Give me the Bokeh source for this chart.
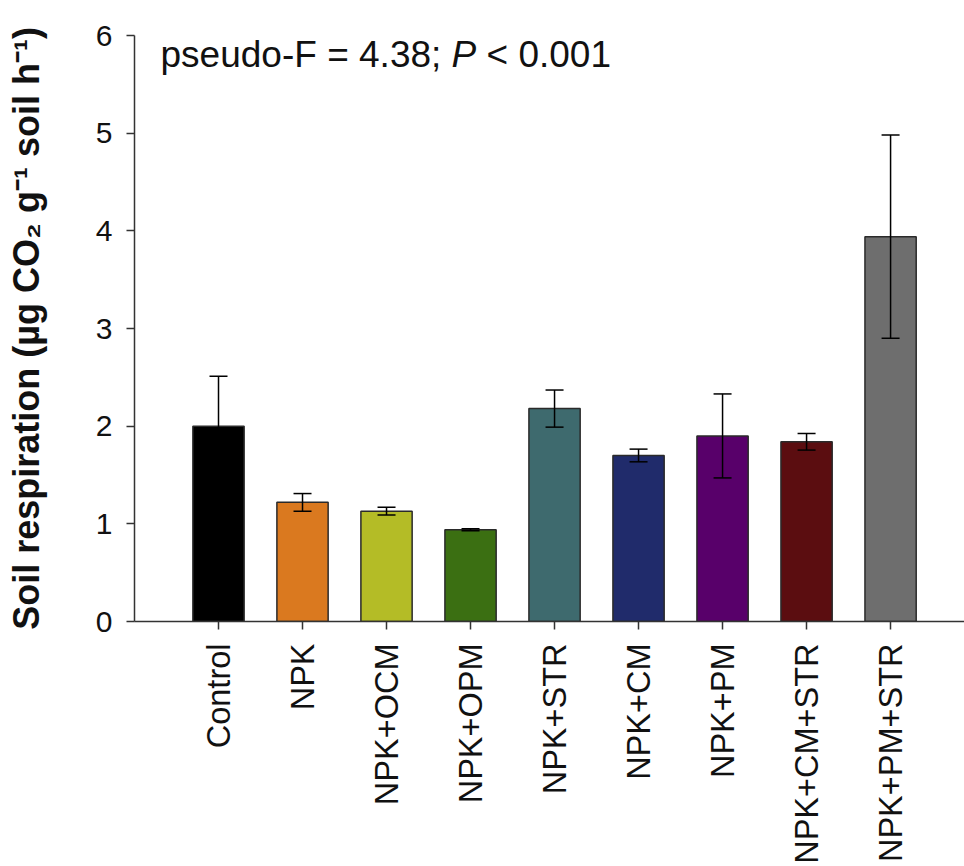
import math
from bokeh.plotting import figure
from bokeh.models import ColumnDataSource, Whisker, TeeHead, FixedTicker, Label, Range1d
from bokeh.embed import file_html
from bokeh.resources import INLINE

categories = ["Control", "NPK", "NPK+OCM", "NPK+OPM", "NPK+STR",
              "NPK+CM", "NPK+PM", "NPK+CM+STR", "NPK+PM+STR"]
means = [2.00, 1.22, 1.13, 0.94, 2.18, 1.70, 1.90, 1.84, 3.94]
errors = [0.51, 0.09, 0.04, 0.01, 0.19, 0.065, 0.43, 0.085, 1.04]
colors = ["#000000", "#DA791F", "#B4BC26", "#3B6F12", "#3E6A6E",
          "#202B6B", "#58006A", "#5B0D10", "#6E6E6E"]
y_ticks = [0, 1, 2, 3, 4, 5, 6]

FONT = "Liberation Sans"

xpos = list(range(1, len(categories) + 1))
src = ColumnDataSource(dict(
    x=xpos, top=means, color=colors,
    upper=[m + e for m, e in zip(means, errors)],
    lower=[m - e for m, e in zip(means, errors)],
))

p = figure(width=964, height=866, output_backend="svg", toolbar_location=None,
           x_range=Range1d(0, 9.88), y_range=Range1d(0, 6),
           min_border_left=134, min_border_right=0, min_border_top=35,
           min_border_bottom=245)
p.outline_line_color = None
p.xgrid.visible = False
p.ygrid.visible = False
p.background_fill_color = "white"
p.border_fill_color = "white"

p.vbar(x="x", top="top", width=0.61, bottom=0, source=src,
       fill_color="color", line_color="#2a2a2a", line_width=1.5)

w = Whisker(base="x", upper="upper", lower="lower", source=src,
            line_color="#000000", line_width=1.5,
            upper_head=TeeHead(size=18, line_color="#000000", line_width=1.5),
            lower_head=TeeHead(size=18, line_color="#000000", line_width=1.5))
w.level = "overlay"
p.add_layout(w)

# axes
p.yaxis.ticker = FixedTicker(ticks=y_ticks)
p.xaxis.ticker = FixedTicker(ticks=xpos)
p.xaxis.major_label_overrides = {i: c for i, c in zip(xpos, categories)}
p.xaxis.major_label_orientation = math.pi / 2
for ax in (p.xaxis[0], p.yaxis[0]):
    ax.axis_line_color = "#333333"
    ax.axis_line_width = 1.5
    ax.major_tick_line_color = "#333333"
    ax.major_tick_line_width = 1.5
    ax.major_tick_out = 8
    ax.major_tick_in = 0
    ax.minor_tick_line_color = None
    ax.major_label_text_font = FONT
    ax.major_label_text_color = "#111111"

p.yaxis.major_label_text_font_size = "30px"
p.yaxis.major_label_standoff = 14
p.xaxis.major_label_text_font_size = "32.5px"
p.xaxis.major_label_standoff = 14

p.yaxis.axis_label = "Soil respiration (\u00b5g CO\u2082 g\u207b\u00b9 soil h\u207b\u00b9)"
p.yaxis.axis_label_text_font = FONT
p.yaxis.axis_label_text_font_style = "bold"
p.yaxis.axis_label_text_font_size = "36px"
p.yaxis.axis_label_text_color = "#111111"
p.yaxis.axis_label_standoff = 46

fs = 37
common = dict(x=0.31, y=5.81, text_font=FONT, text_font_size=f"{fs}px",
              text_color="#111111", text_baseline="alphabetic")
p.add_layout(Label(text="pseudo-F = 4.38;", **common))
p.add_layout(Label(text="P", x_offset=7.866 * fs, text_font_style="italic", **common))
p.add_layout(Label(text="< 0.001", x_offset=(7.866 + 0.667 + 0.278) * fs, **common))

open("out.html", "w").write(file_html(p, INLINE))
